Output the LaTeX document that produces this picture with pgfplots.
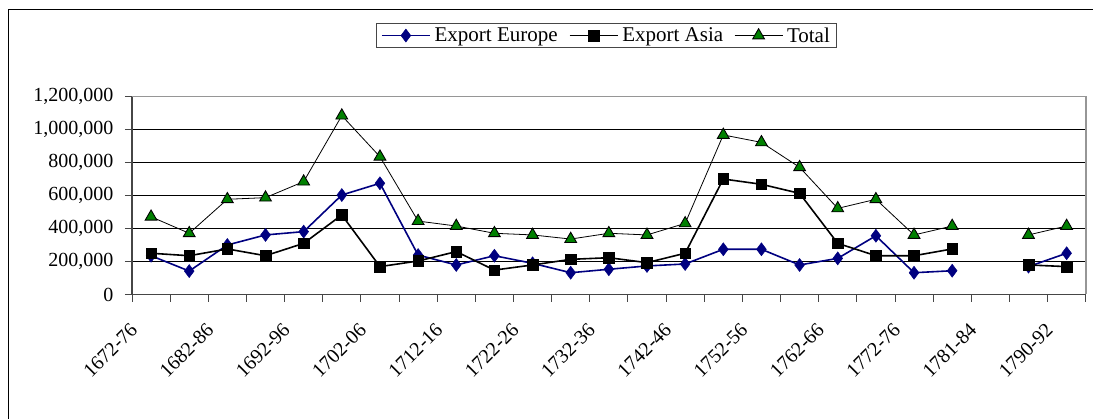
\documentclass[border=0pt]{standalone}
\usepackage{fontspec}
\setmainfont{Liberation Serif}
\usepackage{pgfplots}
\usepackage{pgfplotstable}
\pgfplotsset{compat=1.18}

\definecolor{euroblue}{RGB}{0,0,128}
\definecolor{totalgreen}{RGB}{0,128,0}
\definecolor{boxgray}{RGB}{150,150,150}
\definecolor{axisdark}{RGB}{70,70,70}

% Exports per five-year period (index 22 = 1781-84, no data)
\pgfplotstableread{
idx europe asia total
0  235000 250000 471000
1  142000 235000 371000
2  300000 276000 577000
3  361000 235000 587000
4  381000 310000 684000
5  603000 482000 1084000
6  674000 169000 835000
7  239000 203000 445000
8  179000 260000 415000
9  235000 148000 371000
10 189000 179000 361000
11 132000 213000 336000
12 153000 223000 371000
13 173000 193000 361000
14 185000 250000 431000
15 274000 700000 967000
16 274000 668000 922000
17 179000 613000 771000
18 219000 310000 522000
19 356000 235000 577000
20 132000 235000 361000
21 144000 276000 415000
22 nan    nan    nan
23 169000 179000 361000
24 250000 169000 415000
}\exports

\newcommand{\tickfont}{\fontsize{20}{23}\selectfont}
\newcommand{\legfont}{\fontsize{21}{24}\selectfont}

\begin{document}
\begin{tikzpicture}[x=1pt,y=1pt]
\useasboundingbox (0,0) rectangle (1093,-419);
\draw[line width=1pt, black] (8,-419) -- (8,-10) -- (1093,-10);
\begin{axis}[
  at={(132pt,-294.5pt)}, anchor=south west,
  scale only axis, width=953.7pt, height=198pt,
  xmin=-0.5, xmax=24.5, ymin=0, ymax=1200000,
  axis lines=left,
  axis line style={-, line width=1.3pt, draw=axisdark},
  tick align=outside,
  major tick length=7pt,
  tick style={line width=0.9pt, axisdark},
  xtick={-0.5,0.5,...,24.5}, xticklabels={},
  extra x ticks={0,2,...,24},
  extra x tick labels={1672-76,1682-86,1692-96,1702-06,1712-16,1722-26,1732-36,1742-46,1752-56,1762-66,1772-76,1781-84,1790-92},
  extra x tick style={major tick length=0pt,
    tick label style={font=\tickfont, xshift=-22pt, yshift=-27pt, rotate=45, anchor=north east, inner sep=0pt}},
  ytick={0,200000,...,1200000},
  scaled y ticks=false,
  yticklabel style={font=\tickfont, xshift=-8pt, /pgf/number format/.cd, fixed, 1000 sep={,}, assume math mode=true},
  ymajorgrids,
  grid style={black, line width=0.8pt},
  unbounded coords=jump,
  legend columns=3,
  legend style={at={(0.4975,1.308)}, anchor=center, draw=axisdark, line width=0.9pt,
    font=\legfont, inner xsep=5pt, inner ysep=2pt,
    /tikz/every odd column/.append style={column sep=2pt},
    /tikz/every even column/.append style={column sep=9pt}},
  legend image code/.code={\draw[mark repeat=2,mark phase=2] plot coordinates {(0pt,0pt) (24pt,0pt) (48pt,0pt)};},
  clip=false,
]
\addplot[euroblue, line width=1.6pt, mark=diamond*, mark size=6.5pt,
  mark options={fill=euroblue, draw=euroblue, line width=0.5pt}]
  table[x=idx, y=europe] {\exports};
\addlegendentry{Export Europe}
\addplot[black, line width=1.6pt, mark=square*, mark size=5.3pt,
  mark options={fill=black, draw=black, line width=0.5pt}]
  table[x=idx, y=asia] {\exports};
\addlegendentry{Export Asia}
\addplot[black, line width=0.8pt, mark=triangle*, mark size=6.8pt,
  mark options={fill=totalgreen, draw=black, line width=0.9pt}]
  table[x=idx, y=total] {\exports};
\addlegendentry{Total}
\draw[boxgray, line width=1.6pt] (rel axis cs:0,1) -- (rel axis cs:1,1) -- (rel axis cs:1,0);
\end{axis}
\end{tikzpicture}
\end{document}
